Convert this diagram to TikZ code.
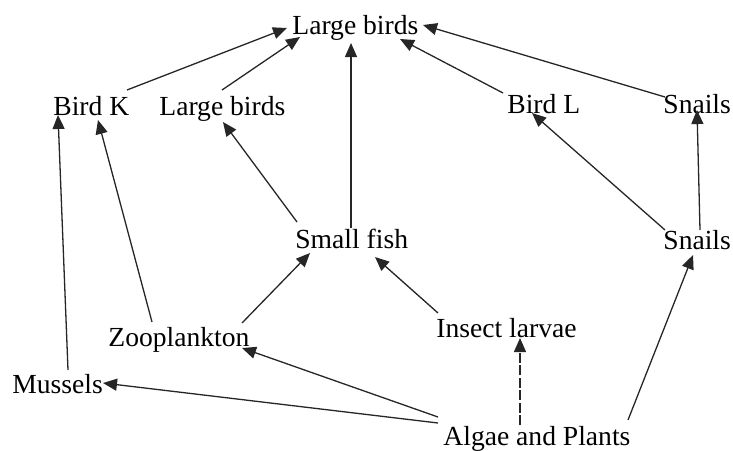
\documentclass[tikz,border=0pt]{standalone}
\usepackage{fontspec}
\setmainfont{Liberation Serif}
\usetikzlibrary{arrows.meta,calc}
\tikzset{
  lbl/.style={anchor=base west,inner sep=0pt,font=\fontsize{13.8}{16}\selectfont,text=black},
  arr/.style={draw=black!85,line width=0.65pt,-{Triangle[length=7pt,width=6pt]}},
  dsh/.style={arr,dash pattern=on 5pt off 1.2pt}
}
\newcommand\edge[5][]{\draw[arr,#1] ($(#2.base west)+(#3)$) -- ($(#4.base west)+(#5)$);}
\begin{document}
\begin{tikzpicture}[x=0.5pt,y=-0.5pt]
\useasboundingbox (0,0) rectangle (733,450);
\node[lbl] (lbt) at (292,34) {Large birds};
\node[lbl] (bk) at (53,115) {Bird K};
\node[lbl] (lb2) at (159,115) {Large birds};
\node[lbl] (bl) at (507,113) {Bird L};
\node[lbl] (snt) at (663,113) {Snails};
\node[lbl] (sf) at (295,248) {Small fish};
\node[lbl] (snr) at (663,249) {Snails};
\node[lbl] (zoo) at (108,346) {Zooplankton};
\node[lbl] (ins) at (436,337) {Insect larvae};
\node[lbl] (mus) at (12,393) {Mussels};
\node[lbl] (alg) at (443,445) {Algae and Plants};
\edge{bk}{74,-25}{lbt}{-5,-6}
\edge{lb2}{63,-25}{lbt}{8,3}
\edge{sf}{56,-20}{lbt}{59,9}
\edge{bl}{-4,-20}{lbt}{108,5}
\edge{snt}{2,-16}{lbt}{131,-9}
\edge{mus}{56,-23}{bk}{5,0}
\edge{zoo}{44,-24}{bk}{45,5}
\edge{sf}{2,-26}{lb2}{64,7}
\edge{zoo}{134,-23}{sf}{15,5}
\edge{ins}{2,-24}{sf}{80,9}
\edge{snr}{2,-19}{bl}{25,0}
\edge{snr}{37,-19}{snt}{34,-3}
\edge{alg}{-5,-28}{zoo}{134,2}
\edge{alg}{-5,-22}{mus}{91,-10}
\edge[dsh]{alg}{77,-20}{ins}{84,1}
\edge{alg}{185,-25}{snr}{30,6}
\end{tikzpicture}
\end{document}
